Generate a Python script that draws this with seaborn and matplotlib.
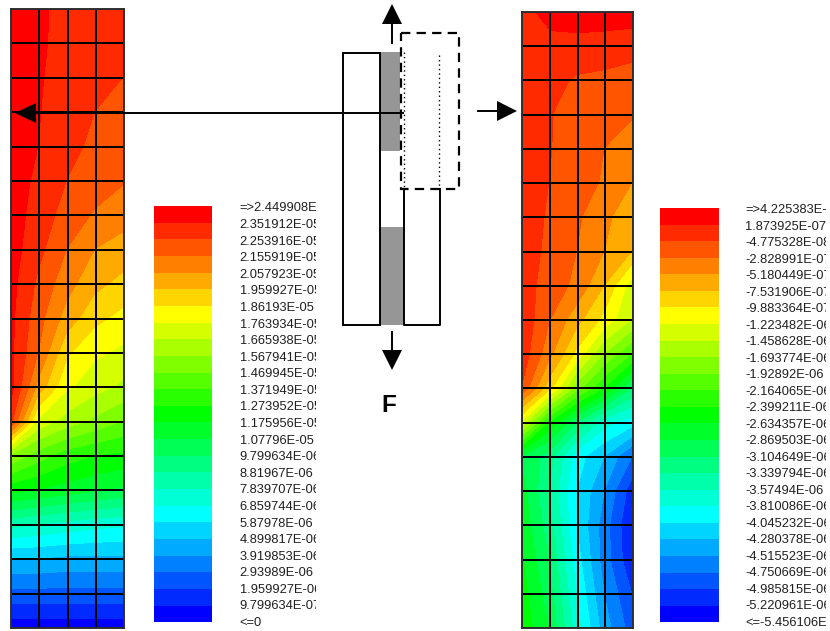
import numpy as np
import matplotlib
matplotlib.use('Agg')
import matplotlib.pyplot as plt
from matplotlib.colors import ListedColormap
from matplotlib.patches import Polygon, Rectangle
from matplotlib.transforms import Bbox
import seaborn as sns

W, H = 830, 631

# legend labels, top to bottom
labels_left = ['=>2.449908E-05', '2.351912E-05', '2.253916E-05', '2.155919E-05', '2.057923E-05',
               '1.959927E-05', '1.86193E-05', '1.763934E-05', '1.665938E-05', '1.567941E-05',
               '1.469945E-05', '1.371949E-05', '1.273952E-05', '1.175956E-05', '1.07796E-05',
               '9.799634E-06', '8.81967E-06', '7.839707E-06', '6.859744E-06', '5.87978E-06',
               '4.899817E-06', '3.919853E-06', '2.93989E-06', '1.959927E-06', '9.799634E-07', '<=0']
labels_right = ['=>4.225383E-07', '1.873925E-07', '-4.775328E-08', '-2.828991E-07', '-5.180449E-07',
                '-7.531906E-07', '-9.883364E-07', '-1.223482E-06', '-1.458628E-06', '-1.693774E-06',
                '-1.92892E-06', '-2.164065E-06', '-2.399211E-06', '-2.634357E-06', '-2.869503E-06',
                '-3.104649E-06', '-3.339794E-06', '-3.57494E-06', '-3.810086E-06', '-4.045232E-06',
                '-4.280378E-06', '-4.515523E-06', '-4.750669E-06', '-4.985815E-06', '-5.220961E-06',
                '<=-5.456106E-06']

# nodal values, in legend bands (0 = top of the legend)
field_left = [
    [0.3, 0.85, 1.25, 1.5, 1.5],
    [0.3, 0.85, 1.3, 1.5, 1.5],
    [0.3, 0.9, 1.4, 1.7, 2.0],
    [0.3, 0.95, 1.5, 2.0, 2.3],
    [0.4, 1.0, 1.7, 2.2, 2.5],
    [0.5, 1.2, 2.0, 2.5, 2.9],
    [0.5, 1.4, 2.4, 3.1, 3.6],
    [0.5, 1.7, 3.0, 4.0, 4.4],
    [0.6, 2.2, 3.6, 4.7, 5.3],
    [0.7, 2.6, 4.4, 5.7, 6.3],
    [0.7, 3.0, 5.8, 6.8, 7.2],
    [0.5, 4.3, 6.8, 7.6, 8.2],
    [1.5, 7.2, 8.4, 9.2, 10.0],
    [9.0, 10.5, 11.5, 12.0, 12.2],
    [12.6, 13.0, 13.4, 13.8, 14.2],
    [16.6, 17.0, 17.3, 17.6, 17.8],
    [20.0, 20.0, 20.2, 20.2, 20.2],
    [22.3, 22.3, 22.3, 22.3, 22.3],
    [24.6, 24.6, 24.6, 24.6, 24.6],
]
field_right = [
    [1.3, 0.6, 0.3, 0.3, 0.3],
    [1.4, 1.3, 1.4, 1.5, 1.7],
    [1.4, 1.7, 2.1, 2.2, 2.3],
    [1.4, 1.95, 2.3, 2.4, 2.9],
    [1.4, 1.95, 2.4, 3.0, 3.5],
    [1.4, 2.0, 2.6, 3.1, 4.0],
    [1.5, 2.1, 2.8, 3.8, 4.5],
    [1.5, 2.2, 3.0, 4.0, 5.0],
    [1.4, 2.5, 3.2, 5.0, 7.5],
    [1.2, 2.9, 4.6, 6.3, 8.0],
    [1.3, 3.6, 6.2, 9.0, 11.0],
    [2.0, 5.5, 9.5, 12.0, 15.0],
    [7.0, 12.0, 15.0, 17.5, 18.5],
    [14.0, 15.5, 18.5, 20.0, 22.0],
    [13.5, 16.0, 19.0, 21.0, 23.5],
    [13.2, 15.5, 19.0, 21.5, 24.0],
    [12.8, 15.0, 18.5, 21.5, 23.8],
    [12.5, 14.5, 18.0, 21.0, 23.0],
    [12.3, 14.0, 17.5, 20.5, 22.5],
]

# the 25 legend colours
band_colors = ['#ff0000', '#ff2a00', '#ff5500', '#ff8000', '#ffaa00', '#ffd500', '#ffff00',
               '#d5ff00', '#aaff00', '#80ff00', '#55ff00', '#2aff00', '#00ff00',
               '#00ff2a', '#00ff55', '#00ff80', '#00ffaa', '#00ffd5', '#00ffff',
               '#00d5ff', '#00aaff', '#0080ff', '#0055ff', '#002aff', '#0000ff']


def px_axes(fig, x0, y0, x1, y1):
    return fig.add_axes([x0 / W, 1 - y1 / H, (x1 - x0) / W, (y1 - y0) / H])


def draw_field(fig, box, field):
    ax = px_axes(fig, *box)
    values = np.array(field)
    nrows, ncols = values.shape
    ax.contourf(np.arange(ncols), np.arange(nrows), values, levels=np.arange(26), colors=band_colors)
    # mesh lines on top of the contours
    sns.heatmap(np.zeros((nrows - 1, ncols - 1)), ax=ax, cmap=ListedColormap(['none']), cbar=False,
                linewidths=1.4, linecolor='black', xticklabels=False, yticklabels=False)
    for s in ax.spines.values():
        s.set_visible(True)
        s.set_color('#303030')
        s.set_linewidth(1.4)
    return ax


def draw_legend(fig, box, labels, pad_pt, clip_x):
    ax = px_axes(fig, *box)
    sns.heatmap(np.arange(25).reshape(-1, 1), ax=ax, cmap=ListedColormap(band_colors), cbar=False,
                xticklabels=False, yticklabels=False)
    ax.yaxis.tick_right()
    # label rows sit a touch below the band edges, as in the original
    ax.set_yticks(np.linspace(0.15, 25.04, 26))
    ax.set_yticklabels(labels, rotation=0, ha='left', va='center', fontsize=9.3, color='#202020')
    ax.tick_params(axis='y', length=0, pad=pad_pt)
    for t in ax.get_yticklabels():
        t.set_clip_box(Bbox([[0, 0], [clip_x, H]]))
        t.set_clip_on(True)


fig = plt.figure(figsize=(W / 100, H / 100), dpi=100, facecolor='white')
plt.rcParams['font.family'] = ['Liberation Sans', 'DejaVu Sans']

draw_field(fig, (11, 9, 124, 628), field_left)
draw_field(fig, (522, 12, 633, 628), field_right)
draw_legend(fig, (154, 206, 212, 623), labels_left, 20, 316)
draw_legend(fig, (660, 208, 719, 623), labels_right, 19, 826)

# schematic in the middle, drawn in pixel coordinates
ov = fig.add_axes([0, 0, 1, 1])
ov.set_xlim(0, W)
ov.set_ylim(H, 0)
ov.axis('off')
ov.patch.set_alpha(0)

ov.add_patch(Rectangle((380, 52), 20, 99, fc='#969696', ec='none'))
ov.add_patch(Rectangle((380, 227), 24, 98, fc='#969696', ec='none'))
ov.add_patch(Rectangle((342.5, 52.5), 37.5, 272.5, fc='none', ec='black', lw=1.4))
ov.plot([404, 404, 439.5, 439.5], [189, 325, 325, 189], color='black', lw=1.4)
ov.add_patch(Rectangle((401, 33), 58, 156, fc='none', ec='black', lw=1.6, ls=(0, (4.2, 2.8))))
ov.plot([404, 404], [52, 187], color='black', lw=1, ls=(0, (1, 2.2)))
ov.plot([439, 439], [55, 187], color='black', lw=1, ls=(0, (1, 2.2)))

ov.plot([30, 403], [113, 113], color='black', lw=1.4)
ov.plot([392, 392], [43, 22], color='black', lw=1.4)
ov.plot([392, 392], [332, 352], color='black', lw=1.4)
ov.plot([478, 499], [111, 111], color='black', lw=1.4)
ov.add_patch(Polygon([[15, 113], [36, 103], [36, 123]], fc='black', ec='none'))
ov.add_patch(Polygon([[392, 4], [382, 24], [402, 24]], fc='black', ec='none'))
ov.add_patch(Polygon([[392, 370], [382, 350], [402, 350]], fc='black', ec='none'))
ov.add_patch(Polygon([[517, 111], [497, 101], [497, 121]], fc='black', ec='none'))
ov.text(389, 405, 'F', fontsize=17.5, fontweight='bold', ha='center', va='center', color='black')

fig.savefig('out.png', dpi=100)
